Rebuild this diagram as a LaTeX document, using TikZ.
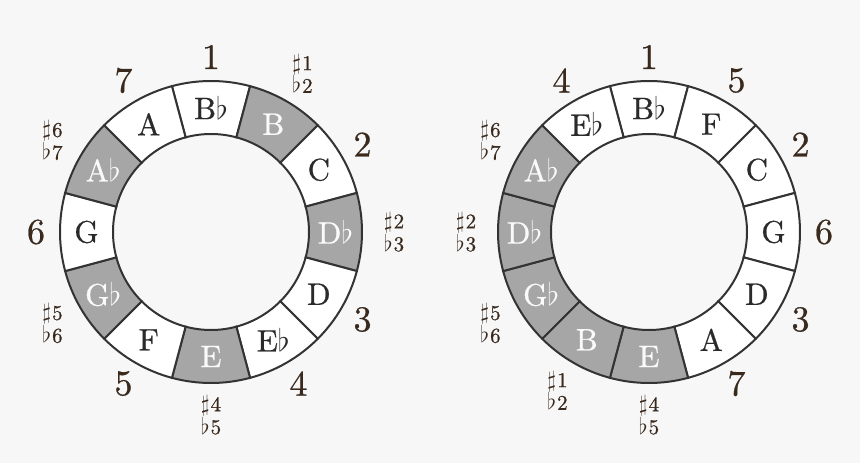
\RequirePackage{fix-cm}
\documentclass[tikz,border=0pt]{standalone}
\usepackage{fontspec}
\setmainfont{lmroman10-regular.otf}[RawFeature={embolden=0.7}]
\definecolor{bgc}{HTML}{F7F7F7}
\definecolor{grayf}{HTML}{A6A6A6}
\definecolor{linec}{HTML}{333333}
\definecolor{numc}{HTML}{3A2A1E}
\definecolor{darkt}{HTML}{2A2A2A}
\definecolor{lightt}{HTML}{FAFAFA}
\tikzset{
  seg/.style={draw=linec, line width=2pt, line join=miter},
  note/.style={font=\fontsize{31}{31}\selectfont, inner sep=0pt},
  num/.style={font=\fontsize{36}{36}\selectfont, text=numc, inner sep=0pt},
  sublab/.style={font=\fontsize{21}{21}\selectfont, text=numc, align=center, inner sep=0pt},
}
\newcommand\acc[1]{{\fontsize{23}{21}\selectfont$#1$}\kern1pt}
\newcommand\sfl[2]{\acc{\sharp}#1\\\acc{\flat}#2}
\begin{document}
\begin{tikzpicture}[x=1pt,y=1pt]
\useasboundingbox (0,0) rectangle (860,463);
\fill[bgc] (0,0) rectangle (860,463);
% left ring
\begin{scope}[shift={(211,231)}]
\foreach \n/\f/\t [count=\i from 0] in {B$\flat$/white/darkt, B/grayf/lightt, C/white/darkt, D$\flat$/grayf/lightt, D/white/darkt, E$\flat$/white/darkt, E/grayf/lightt, F/white/darkt, G$\flat$/grayf/lightt, G/white/darkt, A$\flat$/grayf/lightt, A/white/darkt}{
  \pgfmathsetmacro\a{90-30*\i}
  \pgfmathsetmacro\b{\a+15}
  \pgfmathsetmacro\e{\a-15}
  \filldraw[seg, fill=\f] (\b:151) arc[start angle=\b, end angle=\e, radius=151] -- (\e:98) arc[start angle=\e, end angle=\b, radius=98] -- cycle;
  \node[note, text=\t] (L\i) at (\a:124.5) {\n};
}
\foreach \lab/\s/\r [count=\i from 0] in {1/num/175, {\sfl12}/sublab/183, 2/num/175, {\sfl23}/sublab/183, 3/num/175, 4/num/175, {\sfl45}/sublab/183, 5/num/175, {\sfl56}/sublab/183, 6/num/175, {\sfl67}/sublab/183, 7/num/175}{
  \pgfmathsetmacro\a{90-30*\i}
  \node[\s] (LO\i) at (\a:\r) {\lab};
}
\end{scope}
% right ring
\begin{scope}[shift={(649,231)}]
\foreach \n/\f/\t [count=\i from 0] in {B$\flat$/white/darkt, F/white/darkt, C/white/darkt, G/white/darkt, D/white/darkt, A/white/darkt, E/grayf/lightt, B/grayf/lightt, G$\flat$/grayf/lightt, D$\flat$/grayf/lightt, A$\flat$/grayf/lightt, E$\flat$/white/darkt}{
  \pgfmathsetmacro\a{90-30*\i}
  \pgfmathsetmacro\b{\a+15}
  \pgfmathsetmacro\e{\a-15}
  \filldraw[seg, fill=\f] (\b:151) arc[start angle=\b, end angle=\e, radius=151] -- (\e:98) arc[start angle=\e, end angle=\b, radius=98] -- cycle;
  \node[note, text=\t] (R\i) at (\a:124.5) {\n};
}
\foreach \lab/\s/\r [count=\i from 0] in {1/num/175, 5/num/175, 2/num/175, 6/num/175, 3/num/175, 7/num/175, {\sfl45}/sublab/183, {\sfl12}/sublab/183, {\sfl56}/sublab/183, {\sfl23}/sublab/183, {\sfl67}/sublab/183, 4/num/175}{
  \pgfmathsetmacro\a{90-30*\i}
  \node[\s] (RO\i) at (\a:\r) {\lab};
}
\end{scope}
\end{tikzpicture}
\end{document}
